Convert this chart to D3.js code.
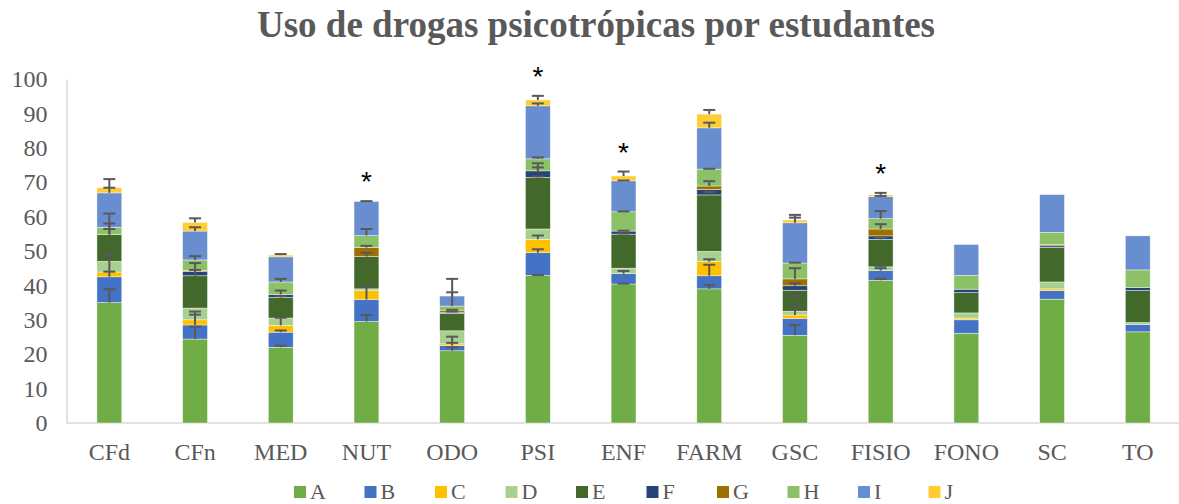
<!DOCTYPE html>
<html>
<head>
<meta charset="utf-8">
<script src="https://cdn.jsdelivr.net/npm/d3@7"></script>
<style>
  body { margin: 0; background: #fff; }
  svg { display: block; }
  .tick text, .lbl { font-family: "Liberation Serif", serif; fill: #595959; }
</style>
</head>
<body>
<div id="chartDiv"></div>
<script>
// categories (courses) and series keys
var categories = ["CFd", "CFn", "MED", "NUT", "ODO", "PSI", "ENF", "FARM", "GSC", "FISIO", "FONO", "SC", "TO"];
var seriesKeys = ["A", "B", "C", "D", "E", "F", "G", "H", "I", "J"];

// stacked segment values per series
var valA = [35.0, 24.4, 22.0, 29.5, 21.0, 42.9, 40.4, 39.0, 25.5, 41.5, 26.1, 36.0, 26.5];
var valB = [7.5, 4.1, 4.4, 6.4, 1.5, 6.6, 3.0, 3.8, 4.9, 2.8, 3.9, 2.5, 2.1];
var valC = [1.4, 1.5, 2.0, 2.6, 0.5, 3.9, 0, 4.1, 1.0, 0, 0.5, 0.5, 0];
var valD = [3.1, 3.4, 2.1, 0.5, 3.8, 3.0, 1.6, 3.0, 1.1, 1.1, 1.5, 2.0, 0.6];
var valE = [7.8, 9.4, 6.0, 9.4, 5.1, 15.0, 9.9, 16.4, 6.1, 8.0, 5.9, 10.0, 9.3];
var valF = [0, 1.2, 0.9, 0, 0.3, 1.9, 0.9, 1.6, 1.3, 1.0, 1.0, 0.5, 0.9];
var valG = [0, 0.3, 0, 2.6, 0.6, 0, 0, 1.0, 2.0, 2.0, 0, 0.4, 0];
var valH = [2.1, 3.1, 3.6, 3.5, 1.2, 3.5, 5.6, 4.9, 4.6, 3.0, 4.0, 3.5, 5.1];
var valI = [10.0, 8.4, 7.3, 9.9, 2.9, 15.4, 9.0, 12.0, 11.7, 6.4, 9.0, 11.0, 9.9];
var valJ = [1.5, 2.5, 0.5, 0, 0, 1.7, 1.4, 4.0, 0.8, 0.5, 0, 0, 0];

// plus error bars per series (0 = none)
var errA = [3.9, 3.6, 0.5, 1.9, 1.0, 0.1, 0.1, 1.1, 3.0, 0.4, 0, 0, 0];
var errB = [1.5, 3.0, 0.5, 3.7, 2.6, 1.0, 0.8, 3.2, 0, 0.7, 0, 0, 0];
var errC = [4.9, 2.4, 2.2, 0, 0.3, 1.1, 0, 0.7, 2.6, 0, 0, 0, 0];
var errD = [1.8, 0, 0, 0, 0, 0, 0, 0, 4.4, 0.3, 0, 0, 0];
var errE = [6.1, 1.7, 0.4, 1.1, 0, 0.3, 0.2, 0.9, 0, 0.5, 0, 0, 0];
var errF = [1.6, 0, 1.1, 0, 0.2, 1.0, 0.1, 0, 0.7, 0, 0, 0, 0];
var errG = [0, 2.2, 0, 0.5, 0.1, 2.2, 0, 1.4, 3.1, 1.4, 0, 0, 0];
var errH = [1.1, 1.1, 0.9, 1.9, 4.0, 0.4, 0.1, 0.1, 0.1, 2.2, 0, 0, 0];
var errI = [1.5, 1.1, 0, 0.1, 5.0, 0.7, 0.1, 1.5, 1.5, 0.2, 0, 0, 0];
var errJ = [2.5, 1.2, 0.3, 0, 0, 1.2, 1.3, 1.2, 1.5, 0.6, 0, 0, 0];

// courses marked with an asterisk
var starred = ["NUT", "PSI", "ENF", "FISIO"];

var yTicks = [0, 10, 20, 30, 40, 50, 60, 70, 80, 90, 100];
var chartTitle = "Uso de drogas psicotrópicas por estudantes";

var values = [valA, valB, valC, valD, valE, valF, valG, valH, valI, valJ];
var errors = [errA, errB, errC, errD, errE, errF, errG, errH, errI, errJ];
var colors = ["#70AD47", "#4472C4", "#FFC000", "#A9D18E", "#43682B", "#264478", "#9E7000", "#8CC168", "#698ED0", "#FFCD33"];

var svgWidth = 1179;
var svgHeight = 504;

var svg = d3.select('#chartDiv')
            .append('svg')
            .attr('width', svgWidth)
            .attr('height', svgHeight);

// title
svg.append('text')
   .attr('class', 'lbl')
   .attr('x', 596)
   .attr('y', 37)
   .attr('text-anchor', 'middle')
   .style('font-size', '37px')
   .style('font-weight', 'bold')
   .text(chartTitle);

// scales
var x = d3.scaleBand()
          .domain(categories)
          .range([66.5, 1180.6])
          .paddingInner(0.71)
          .paddingOuter(0.355);

var y = d3.scaleLinear()
          .domain([0, 100])
          .range([423, 79]);

// build table for the stack
var table = categories.map(function(c, i) {
    var row = { cat: c };
    seriesKeys.forEach(function(k, s) { row[k] = values[s][i]; });
    return row;
});
var stacked = d3.stack().keys(seriesKeys)(table);

// axes
var yAxis = svg.append('g')
               .attr('transform', 'translate(66.5,0)')
               .call(d3.axisLeft(y).tickValues(yTicks).tickSize(0).tickPadding(19));
yAxis.select('.domain').attr('stroke', '#d9d9d9').attr('stroke-width', 1.5);
yAxis.selectAll('.tick text').style('font-size', '24px');

var xAxis = svg.append('g')
               .attr('transform', 'translate(0,423)')
               .call(d3.axisBottom(x).tickSize(0).tickPadding(20));
xAxis.select('.domain').attr('d', 'M66.5,0H1179').attr('stroke', '#d9d9d9').attr('stroke-width', 1.5);
xAxis.selectAll('.tick text').style('font-size', '24px');

// bars
var layers = svg.selectAll('.layer')
                .data(stacked)
                .enter()
                .append('g')
                .attr('class', 'layer')
                .attr('fill', function(d, i) { return colors[i]; });

layers.selectAll('rect')
      .data(function(d) { return d.filter(function(p) { return p[1] - p[0] > 0; }); })
      .enter()
      .append('rect')
      .attr('x', function(d) { return x(d.data.cat); })
      .attr('width', x.bandwidth())
      .attr('y', function(d) { return y(d[1]); })
      .attr('height', function(d) { return y(d[0]) - y(d[1]); })
      .attr('stroke', '#ffffff')
      .attr('stroke-width', 0.6)
      .attr('stroke-opacity', 0.7);

// error bars (plus direction), drawn over all bars
var errData = [];
stacked.forEach(function(layer, s) {
    layer.forEach(function(p, i) {
        if (errors[s][i] > 0) {
            errData.push({ cat: categories[i], top: p[1], err: errors[s][i] });
        }
    });
});

var eb = svg.append('g')
            .attr('stroke', '#595959')
            .attr('stroke-width', 2);
var cx = function(d) { return x(d.cat) + x.bandwidth() / 2; };

eb.selectAll('.stem')
  .data(errData)
  .enter()
  .append('line')
  .attr('x1', cx).attr('x2', cx)
  .attr('y1', function(d) { return y(d.top); })
  .attr('y2', function(d) { return y(d.top + d.err); });

eb.selectAll('.cap')
  .data(errData)
  .enter()
  .append('line')
  .attr('x1', function(d) { return cx(d) - 6; })
  .attr('x2', function(d) { return cx(d) + 6; })
  .attr('y1', function(d) { return y(d.top + d.err); })
  .attr('y2', function(d) { return y(d.top + d.err); });

// asterisks above the marked courses
svg.selectAll('.star')
   .data(starred)
   .enter()
   .append('text')
   .attr('x', function(c) { return x(c) + x.bandwidth() / 2; })
   .attr('y', function(c) {
       var i = categories.indexOf(c);
       var hi = d3.max(stacked, function(layer, s) { return layer[i][1] + errors[s][i]; });
       return y(hi) - 10;
   })
   .attr('text-anchor', 'middle')
   .style('font-family', '"Liberation Sans", sans-serif')
   .style('font-size', '28px')
   .style('fill', '#000')
   .text('*');

// legend
var legend = svg.selectAll('.legendItem')
                .data(seriesKeys)
                .enter()
                .append('g')
                .attr('transform', function(d, i) { return 'translate(' + (294 + i * 70.5) + ',486)'; });
legend.append('rect')
      .attr('width', 12)
      .attr('height', 12)
      .attr('fill', function(d, i) { return colors[i]; });
legend.append('text')
      .attr('class', 'lbl')
      .attr('x', 16)
      .attr('y', 13)
      .style('font-size', '22px')
      .text(function(d) { return d; });
</script>
</body>
</html>
